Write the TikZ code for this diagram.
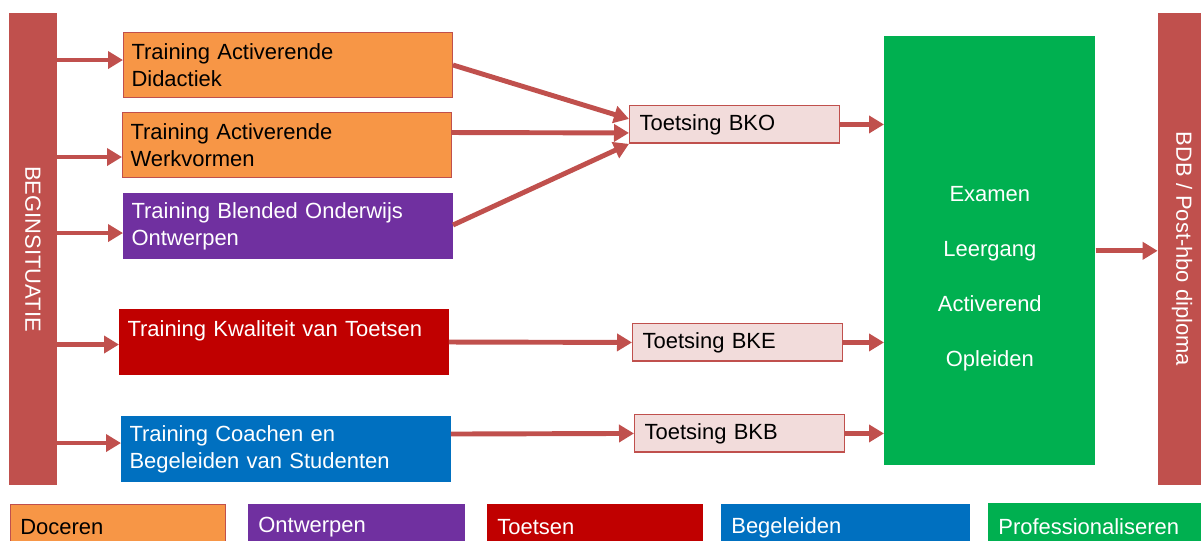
\documentclass[tikz,border=0pt]{standalone}
\usepackage{fontspec}
\setmainfont{Liberation Sans}
\usetikzlibrary{arrows.meta}
\definecolor{balk}{RGB}{192,80,77}
\definecolor{oranje}{RGB}{247,150,70}
\definecolor{paars}{RGB}{112,48,160}
\definecolor{rood}{RGB}{192,0,0}
\definecolor{blauw}{RGB}{0,112,192}
\definecolor{groen}{RGB}{0,176,80}
\definecolor{roze}{RGB}{242,220,219}

\begin{document}
\begin{tikzpicture}[x=0.02cm,y=-0.02cm,font=\fontsize{12.5pt}{15.4pt}\selectfont]
\tikzstyle{bar}=[fill=balk,text=white,rotate=-90,minimum width=9.44cm,minimum height=0.96cm,inner sep=0pt]
\tikzstyle{training}=[anchor=north west,draw=balk,line width=0.6pt,text width=6.26cm,inner xsep=0.16cm,minimum height=1.3cm,align=left]
\tikzstyle{toetsbox}=[anchor=north west,fill=roze,draw=balk,line width=0.8pt,text width=3.8cm,inner xsep=0.2cm,minimum height=0.75cm,align=left]
\tikzstyle{legend}=[anchor=north west,minimum height=0.92cm,inner xsep=0.2cm,align=left,text=white]
\tikzstyle{pijl}=[draw=balk,line width=2.8pt,-{Triangle[length=0.3cm,width=0.34cm]}]
\useasboundingbox (0,0) rectangle (1201,541);

\node[bar] (begin) at (33,249) {BEGINSITUATIE};
\node[bar] (diploma) at (1182,249) {BDB / Post-hbo diploma};

\node[training,fill=oranje] (didactiek) at (123,32) {Training Activerende\\Didactiek};
\node[training,fill=oranje] (werkvormen) at (122,112) {Training Activerende\\Werkvormen};
\node[training,fill=paars,draw=paars,text=white] (blended) at (123,193) {Training Blended Onderwijs\\Ontwerpen};
\node[training,fill=rood,draw=rood,text=white] (kwaliteit) at (119,309) {Training Kwaliteit van Toetsen\\\mbox{}};
\node[training,fill=blauw,draw=blauw,text=white] (coachen) at (121,416) {Training Coachen en\\Begeleiden van Studenten};

\node[toetsbox] (bko) at (629,105) {Toetsing BKO};
\node[toetsbox] (bke) at (632,323) {Toetsing BKE};
\node[toetsbox] (bkb) at (634,414) {Toetsing BKB};

\node[anchor=north west,fill=groen,text=white,minimum width=4.22cm,minimum height=8.58cm,align=center,
  font=\fontsize{12.5pt}{31.3pt}\selectfont] (examen) at (884,36) {\rule{0pt}{9pt}\\Examen\\Leergang\\Activerend\\Opleiden};

\node[legend,fill=oranje,draw=balk,text=black,text width=3.9cm] (doceren) at (10,504) {Doceren};
\node[legend,fill=paars,text width=3.94cm] (ontwerpen) at (248,504) {Ontwerpen};
\node[legend,fill=rood,text width=3.92cm] (toetsen) at (487,504) {Toetsen};
\node[legend,fill=blauw,text width=4.58cm] (begeleiden) at (721,504) {Begeleiden};
\node[legend,fill=groen,text width=4.2cm] (professionaliseren) at (988,503) {Professionaliseren};

\foreach \doel/\dy in {didactiek/0.1,werkvormen/-0.24,blended/-0.14,kwaliteit/-0.05,coachen/0.12}
  \draw[pijl] ([yshift=\dy cm]\doel.west -| begin.north) -- ([yshift=\dy cm]\doel.west);

\draw[pijl] (didactiek.east) -- ([yshift=0.11cm]bko.west);
\draw[pijl] ([yshift=0.25cm]werkvormen.east) -- ([yshift=-0.17cm]bko.west);
\draw[pijl] ([yshift=0.02cm]blended.east) -- (bko.south west);
\draw[pijl] (kwaliteit.east) -- (bke.west);
\draw[pijl] ([yshift=0.3cm]coachen.east) -- (bkb.west);

\draw[pijl] (bko.east) -- (bko.east -| examen.west);
\draw[pijl] (bke.east) -- (bke.east -| examen.west);
\draw[pijl] (bkb.east) -- (bkb.east -| examen.west);
\draw[pijl] (examen.east) -- (examen.east -| diploma.south);
\end{tikzpicture}
\end{document}
